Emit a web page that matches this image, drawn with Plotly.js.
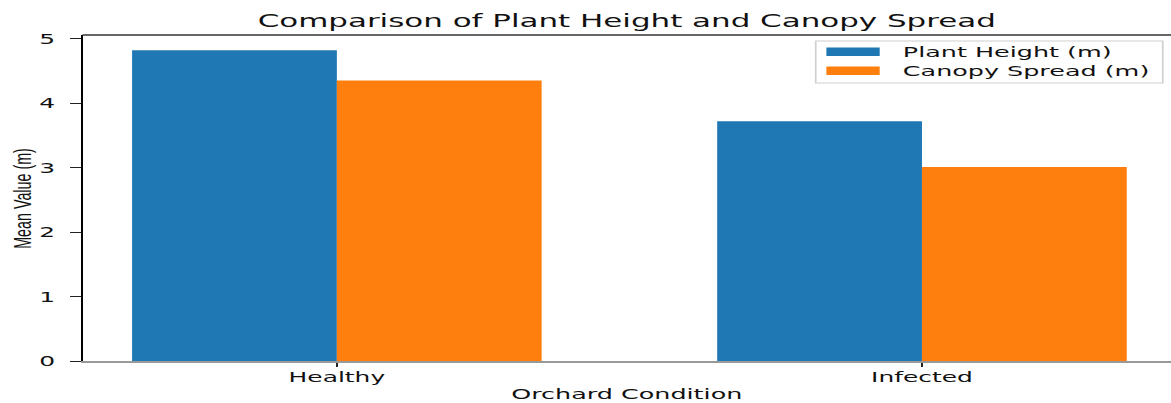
<!DOCTYPE html>
<html>
<head>
<meta charset="utf-8">
<script src="https://cdn.plot.ly/plotly-3.0.1.min.js"></script>
<style>
  html, body { margin: 0; padding: 0; background: #fff; overflow: hidden; width: 1171px; height: 403px; }
  #chart { width: 681px; height: 403px; transform: scaleX(1.7195); transform-origin: 0 0; }
</style>
</head>
<body>
<div id="chart"></div>
<script>
// ---- data ----
const categories = ['Healthy', 'Infected'];
const plantHeight = [4.82, 3.72];
const canopySpread = [4.35, 3.01];
const seriesNames = ['Plant Height (m)', 'Canopy Spread (m)'];
const seriesColors = ['#1f77b4', '#ff7f0e'];
const yTickValues = [0, 1, 2, 3, 4, 5];
const chartTitle = 'Comparison of Plant Height and Canopy Spread';
const xTitle = 'Orchard Condition';
const yTitle = 'Mean Value (m)';

// ---- geometry (un-stretched coordinates) ----
const W = 681, H = 403;
const M = {l: 48, r: 0, t: 35, b: 42};
const PW = W - M.l - M.r, PH = H - M.t - M.b;
const px = x => (x - M.l) / PW;          // pixel x -> paper x
const py = y => (H - M.b - y) / PH;      // pixel y -> paper y

const font = 'DejaVu Sans, Verdana, sans-serif';

const traces = [plantHeight, canopySpread].map((vals, i) => ({
  type: 'bar',
  x: categories,
  y: vals,
  name: seriesNames[i],
  marker: {color: seriesColors[i], line: {width: 0}},
  hoverinfo: 'skip'
}));

// custom matplotlib-like legend
const shapes = [
  {type: 'rect', xref: 'paper', yref: 'paper', x0: px(474.4), x1: px(676.2), y0: py(83), y1: py(41),
   line: {color: '#d0d0d0', width: 1}, fillcolor: 'rgba(255,255,255,0.8)', layer: 'above'},
  // top spine
  {type: 'line', xref: 'paper', yref: 'paper', x0: 0, x1: 1, y0: 1, y1: 1,
   line: {color: '#333', width: 1.5}, layer: 'above'}
];
const annotations = [];
const rowY = [51.7, 70.7];
seriesNames.forEach((n, i) => {
  shapes.push({type: 'rect', xref: 'paper', yref: 'paper', x0: px(480.6), x1: px(511.6),
    y0: py(rowY[i] + 4.3), y1: py(rowY[i] - 4.3), line: {width: 0}, fillcolor: seriesColors[i], layer: 'above'});
  annotations.push({xref: 'paper', yref: 'paper', x: px(522.6), y: py(rowY[i]), xanchor: 'left', yanchor: 'middle',
    text: n, showarrow: false, font: {family: font, size: 14.8, color: '#111'}});
});
annotations.push({xref: 'paper', yref: 'paper', x: px(12.8), y: 0.5, xanchor: 'center', yanchor: 'middle',
  textangle: -90, text: yTitle, showarrow: false, font: {family: 'Liberation Sans, Arial, sans-serif', size: 14.3, color: '#111'}});

const layout = {
  width: W, height: H,
  margin: {l: M.l, r: M.r, t: M.t, b: M.b, pad: 0},
  paper_bgcolor: '#fff', plot_bgcolor: '#fff',
  showlegend: false,
  barmode: 'group', bargap: 0.3, bargroupgap: 0,
  title: {text: chartTitle, x: 0.5, xref: 'paper', xanchor: 'center', y: 1 - 20.5 / H, yref: 'container', yanchor: 'middle',
          font: {family: font, size: 18, color: '#111'}},
  xaxis: {
    type: 'category', range: [-0.4347, 1.4256],
    showline: true, linecolor: '#999', linewidth: 1.5, mirror: false,
    ticks: 'outside', ticklen: 4, tickwidth: 1, tickcolor: '#222',
    tickfont: {family: font, size: 14.5, color: '#111'}, ticklabelstandoff: -2,
    showgrid: false, zeroline: false,
    title: {text: xTitle, font: {family: font, size: 14.8, color: '#111'}, standoff: 4}
  },
  yaxis: {
    range: [0, 5.057], tickvals: yTickValues, ticktext: yTickValues.map(String),
    showline: true, linecolor: '#000', linewidth: 1,
    ticks: 'outside', ticklen: 6, tickwidth: 1, tickcolor: '#222',
    tickfont: {family: font, size: 14.5, color: '#111'}, ticklabelstandoff: 6,
    showgrid: false, zeroline: false
  },
  shapes: shapes,
  annotations: annotations
};

Plotly.newPlot('chart', traces, layout, {displayModeBar: false, staticPlot: true});
</script>
</body>
</html>
